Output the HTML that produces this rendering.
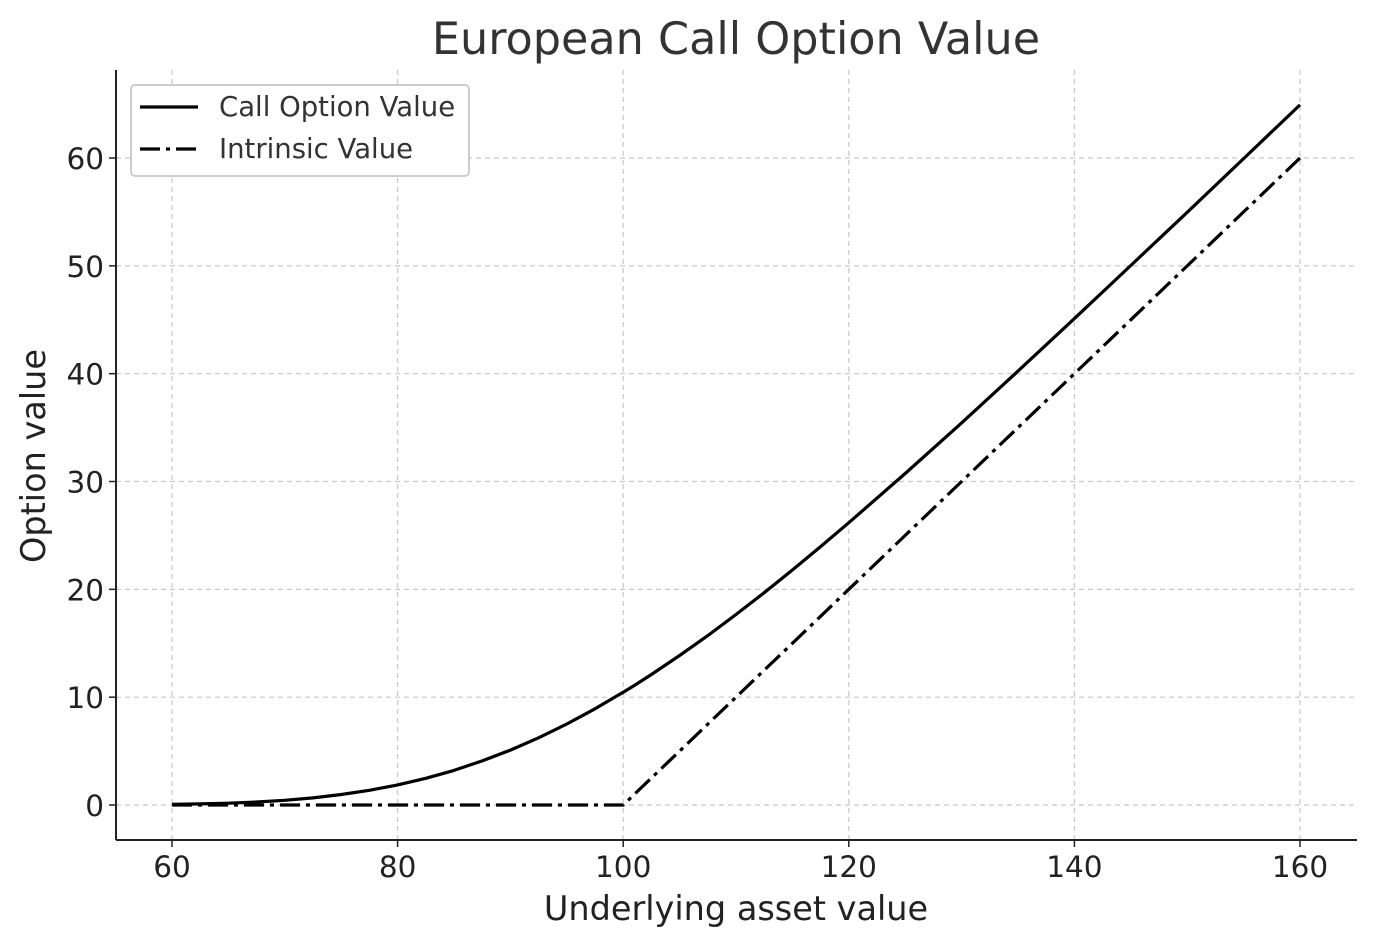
<!DOCTYPE html>
<html><head><meta charset="utf-8"><style>
body{margin:0;background:#fff;}
svg{display:block;font-family:"DejaVu Sans","Liberation Sans",sans-serif;}
</style></head><body>
<svg id="chart" width="1376" height="947">
<text x="736" y="54" text-anchor="middle" font-size="44.5" fill="#333">European Call Option Value</text>
<g id="grid"></g>
<g id="ticks"></g>
<g id="series"></g>
<line x1="116" y1="70" x2="116" y2="840" stroke="#222" stroke-width="2"/>
<line x1="116" y1="840" x2="1357" y2="840" stroke="#222" stroke-width="2"/>
<text x="736" y="920" text-anchor="middle" font-size="33.5" fill="#222">Underlying asset value</text>
<text transform="translate(45,456) rotate(-90)" text-anchor="middle" font-size="33.5" fill="#222">Option value</text>
<g>
<rect x="131" y="85" width="338" height="91" rx="4" fill="#fff" stroke="#ccc" stroke-width="2"/>
<line x1="140" y1="107" x2="198" y2="107" stroke="#000" stroke-width="3.2"/>
<text x="219" y="116" font-size="27.5" fill="#333">Call Option Value</text>
<line x1="140" y1="149" x2="198" y2="149" stroke="#000" stroke-width="3.2" stroke-dasharray="20,6,4,6"/>
<text x="219" y="158" font-size="27.5" fill="#333">Intrinsic Value</text>
</g>
</svg>
<script>
const xs=[60,62.5,65,67.5,70,72.5,75,77.5,80,82.5,85,87.5,90,92.5,95,97.5,100,101,102.5,105,107.5,110,112.5,115,117.5,120,125,130,135,140,145,150,155,160];
const callVals=[0.055,0.1,0.17,0.28,0.44,0.66,0.97,1.36,1.86,2.48,3.21,4.09,5.09,6.23,7.51,8.92,10.45,11.09,12.10,13.86,15.71,17.67,19.69,21.79,23.96,26.18,30.74,35.44,40.24,45.11,50.03,54.97,59.95,64.93];
const intrinsicVals=[0,0,0,0,0,0,0,0,0,0,0,0,0,0,0,0,0,1,2.5,5,7.5,10,12.5,15,17.5,20,25,30,35,40,45,50,55,60];
const xTicks=[60,80,100,120,140,160];
const yTicks=[0,10,20,30,40,50,60];
const X=v=>172+(v-60)*11.28;
const Y=v=>805-v*10.783;
const NS="http://www.w3.org/2000/svg";
const grid=document.getElementById('grid'),ticks=document.getElementById('ticks'),series=document.getElementById('series');
function mk(tag,attrs,parent){const e=document.createElementNS(NS,tag);for(const k in attrs)e.setAttribute(k,attrs[k]);parent.appendChild(e);return e;}
xTicks.forEach(t=>{
 const g=mk('line',{x1:X(t),x2:X(t),y1:70,y2:840,stroke:'#c8c8c8','stroke-width':1.2,'stroke-dasharray':'5,4'},grid);
 
 
 const tm=mk('line',{x1:X(t),x2:X(t),y1:840,y2:847,stroke:'#222','stroke-width':1.5},ticks);
 
 
 const l=mk('text',{x:X(t),y:877,'text-anchor':'middle','font-size':29.5,fill:'#222'},ticks);
 l.textContent=t;
 
 
});
yTicks.forEach(t=>{
 const g=mk('line',{x1:116,x2:1357,y1:Y(t),y2:Y(t),stroke:'#c8c8c8','stroke-width':1.2,'stroke-dasharray':'5,4'},grid);
 
 
 const tm=mk('line',{x1:109,x2:116,y1:Y(t),y2:Y(t),stroke:'#222','stroke-width':1.5},ticks);
 
 
 const l=mk('text',{x:104,y:Y(t)+11,'text-anchor':'end','font-size':29.5,fill:'#222'},ticks);
 l.textContent=t;
 
 
});
function pts(vals){return xs.map((x,i)=>X(x).toFixed(1)+','+Y(vals[i]).toFixed(1)).join(' ');}
const c=mk('polyline',{points:pts(callVals),fill:'none',stroke:'#000','stroke-width':3.2,'stroke-linejoin':'round'},series);


const iv=mk('polyline',{points:pts(intrinsicVals),fill:'none',stroke:'#000','stroke-width':3.2,'stroke-dasharray':'20,6,4,6'},series);


</script>
</body></html>
